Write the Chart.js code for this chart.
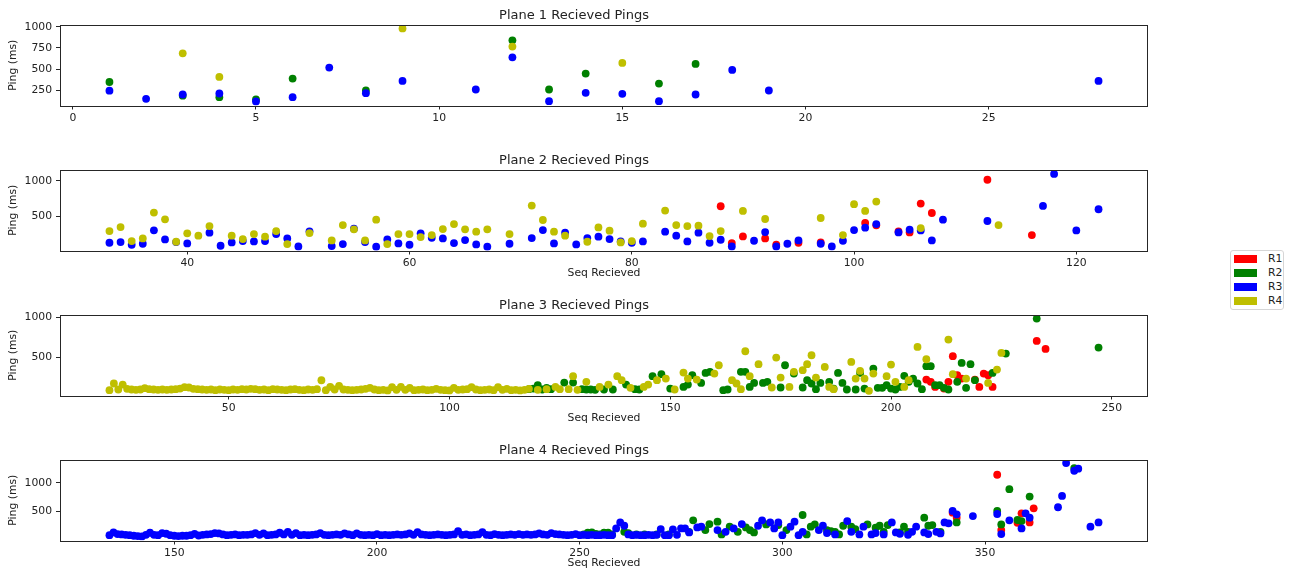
<!DOCTYPE html>
<html>
<head>
<meta charset="utf-8">
<script src="https://cdn.jsdelivr.net/npm/chart.js@4.4.1/dist/chart.umd.min.js"></script>
<style>
  html, body { margin: 0; padding: 0; background: #fff; overflow: hidden; }
  #wrap { position: relative; width: 1298px; height: 573px; }
  canvas.plane { position: absolute; left: 0; }
  #legend {
    position: absolute; left: 1230px; top: 250px; width: 54px; height: 60px;
    box-sizing: border-box; border: 1px solid #d6d6d6; border-radius: 3px; background: #fff;
    font-family: "DejaVu Sans", sans-serif; font-size: 10.8px; color: #222;
  }
  #legend .row { position: absolute; left: 3px; height: 14px; width: 48px; }
  #legend .sw { position: absolute; left: 0; top: 3px; width: 23px; height: 8px; }
  #legend .lb { position: absolute; left: 34px; top: 0; line-height: 14px; }
</style>
</head>
<body>
<div id="wrap">
  <canvas class="plane" id="plane1" width="1208" height="145" style="top:0px"></canvas>
  <canvas class="plane" id="plane2" width="1208" height="145" style="top:145px"></canvas>
  <canvas class="plane" id="plane3" width="1208" height="145" style="top:290px"></canvas>
  <canvas class="plane" id="plane4" width="1208" height="145" style="top:435px"></canvas>
  <div id="legend"></div>
</div>
<script>
// Router names and their marker colours
const routers = ['R1', 'R2', 'R3', 'R4'];
const routerColors = ['#ff0000', '#008000', '#0000ff', '#bfbf00'];

// Tick values per plane
const p1XTicks = [0, 5, 10, 15, 20, 25];
const p1YTicks = [250, 500, 750, 1000];
const p2XTicks = [40, 60, 80, 100, 120];
const p2YTicks = [500, 1000];
const p3XTicks = [50, 100, 150, 200, 250];
const p3YTicks = [500, 1000];
const p4XTicks = [150, 200, 250, 300, 350];
const p4YTicks = [500, 1000];

// ---- Plane 1: [seq, ping ms] ----
const p1R2 = [[1,350],[3,190],[4,172],[5,145],[6,390],[8,250],[12,840],[13,262],[14,449],[16,332],[17,562]];
const p1R3 = [[1,248],[2,152],[3,203],[4,215],[5,121],[6,172],[7,520],[8,219],[9,363],[11,262],[12,640],
  [13,125],[14,223],[15,211],[16,125],[17,203],[18,492],[19,250],[28,363]];
const p1R4 = [[3,687],[4,410],[9,980],[12,766],[15,574]];

// ---- Plane 2 ----
const p2R1 = [[88,645],[89,131],[90,224],[92,196],[93,108],[95,136],[97,140],[101,411],[102,379],[104,294],
  [105,280],[106,682],[107,551],[112,1014],[116,243]];
const p2R3 = [[33,136],[34,145],[35,108],[36,122],[37,309],[38,182],[39,145],[40,126],[42,276],[43,94],
  [44,140],[45,159],[46,154],[47,159],[48,257],[49,196],[50,84],[51,295],[53,89],[54,117],[55,332],[56,145],
  [57,80],[58,182],[59,126],[60,108],[61,267],[62,206],[63,196],[64,131],[65,173],[66,112],[67,80],[69,122],
  [71,201],[72,313],[73,126],[74,276],[75,112],[76,201],[77,220],[78,187],[79,154],[80,136],[81,154],[83,290],
  [84,234],[85,154],[86,276],[87,136],[88,178],[89,84],[91,164],[92,285],[93,84],[94,122],[95,168],[97,122],
  [98,84],[99,164],[100,313],[101,346],[102,397],[104,280],[105,318],[106,308],[107,168],[108,458],[112,439],
  [117,649],[118,1095],[120,308],[122,603]];
const p2R4 = [[33,299],[34,355],[35,160],[36,196],[37,556],[38,463],[39,150],[40,267],[41,234],[42,369],
  [44,234],[45,187],[46,257],[47,220],[48,299],[49,117],[51,271],[53,168],[54,383],[55,323],[56,168],[57,458],
  [58,117],[59,257],[60,257],[61,215],[62,243],[63,327],[64,397],[65,323],[66,290],[67,323],[69,257],[71,654],
  [72,453],[73,290],[74,234],[76,150],[77,350],[78,304],[79,140],[80,159],[81,402],[83,584],[84,383],[85,369],
  [86,374],[87,229],[88,299],[90,579],[92,467],[97,481],[99,243],[100,673],[101,579],[102,710],[106,341],[113,383]];

// ---- Plane 3 ----
const p3R1 = [[208,225],[209,196],[210,133],[212,112],[213,196],[214,517],[215,279],[216,237],[219,225],
  [220,133],[221,300],[222,279],[223,133],[233,708],[235,608]];
const p3R2 = [[118,104],[119,112],[120,154],[121,100],[122,121],[123,104],[126,187],[128,187],[130,104],
  [131,100],[132,100],[133,96],[135,100],[137,100],[140,162],[142,104],[143,100],[146,267],[148,292],[150,112],
  [153,133],[154,162],[155,279],[157,183],[158,308],[159,321],[162,92],[163,100],[166,321],[167,321],[168,133],
  [169,183],[171,183],[172,196],[175,125],[176,404],[178,300],[180,125],[181,217],[182,175],[183,104],[184,183],
  [186,196],[187,112],[188,308],[189,183],[190,100],[192,100],[193,308],[194,112],[196,362],[197,121],[198,121],
  [199,154],[200,112],[201,100],[202,133],[203,271],[204,196],[205,237],[206,175],[207,104],[208,392],[209,392],
  [210,154],[211,154],[212,121],[213,100],[215,196],[216,433],[217,121],[218,417],[219,217],[223,308],[226,550],
  [233,988],[247,625]];
const p3R4 = [[23,92],[24,175],[25,100],[26,162],[27,108],[28,100],[29,96],[30,100],[31,117],[32,104],
  [33,100],[34,96],[35,100],[36,96],[37,100],[38,104],[39,112],[40,129],[41,125],[42,108],[43,104],[44,100],
  [45,96],[46,100],[47,92],[48,100],[49,96],[50,92],[51,100],[52,96],[53,104],[54,100],[55,108],[56,104],
  [57,96],[58,100],[59,92],[60,104],[61,100],[62,96],[63,92],[64,100],[65,104],[66,96],[67,92],[68,100],
  [69,96],[70,104],[71,216],[72,92],[73,133],[74,100],[75,146],[76,100],[77,96],[78,92],[79,96],[80,100],
  [81,108],[82,121],[83,100],[84,92],[85,96],[86,88],[87,129],[88,96],[89,133],[90,96],[91,121],[92,92],
  [93,96],[94,100],[95,92],[96,96],[97,108],[98,96],[99,92],[100,88],[101,121],[102,96],[103,100],[104,104],
  [105,129],[106,100],[107,92],[108,96],[109,100],[110,92],[111,129],[112,96],[113,108],[114,92],[115,96],
  [116,88],[117,96],[118,108],[120,96],[122,104],[124,133],[125,104],[127,104],[128,267],[129,96],[131,196],
  [134,133],[136,162],[138,267],[139,217],[141,121],[144,133],[145,162],[147,217],[149,237],[151,100],
  [153,312],[154,237],[156,225],[160,300],[161,404],[164,217],[165,175],[166,104],[167,579],[168,267],
  [170,417],[173,125],[174,500],[175,250],[177,133],[178,321],[180,342],[181,417],[182,529],[183,250],
  [185,383],[186,133],[187,104],[191,446],[192,237],[193,333],[194,237],[195,83],[196,300],[199,267],
  [200,412],[201,196],[203,133],[204,217],[206,633],[208,479],[213,725],[214,292],[217,237],[222,183],
  [224,350],[225,558]];

// ---- Plane 4 ----
const p4R1 = [[342,483],[343,395],[353,1139],[354,180],[358,308],[359,471],[361,314],[362,558]];
const p4R2 = [[251,105],[252,134],[253,140],[254,116],[255,105],[256,134],[257,134],[258,105],[261,151],
  [262,128],[264,105],[266,105],[269,105],[272,105],[277,151],[278,349],[281,180],[282,285],[284,326],[285,105],
  [287,239],[289,151],[291,227],[292,180],[293,140],[296,279],[299,268],[301,180],[305,442],[306,105],[307,239],
  [308,279],[311,180],[312,163],[313,151],[314,105],[315,256],[317,239],[318,198],[321,279],[323,221],[324,256],
  [325,151],[326,268],[329,140],[330,239],[331,151],[335,395],[336,256],[337,268],[339,151],[343,314],[353,512],
  [354,279],[356,889],[358,355],[359,337],[361,761],[372,1255]];
const p4R3 = [[134,93],[135,140],[136,111],[137,105],[138,99],[139,93],[140,82],[141,76],[142,70],[143,99],
  [144,134],[145,99],[146,93],[147,128],[148,117],[149,93],[150,82],[151,76],[152,82],[153,82],[154,93],
  [155,116],[156,87],[157,99],[158,105],[159,111],[160,128],[161,122],[162,105],[163,93],[164,99],[165,105],
  [166,93],[167,99],[168,99],[169,105],[170,128],[171,99],[172,122],[173,93],[174,99],[175,105],[176,134],
  [177,105],[178,151],[179,99],[180,128],[181,93],[182,99],[183,93],[184,99],[185,105],[186,128],[187,99],
  [188,93],[189,99],[190,105],[191,99],[192,122],[193,105],[194,93],[195,122],[196,99],[197,93],[198,99],
  [199,93],[200,111],[201,93],[202,99],[203,93],[204,99],[205,105],[206,99],[207,105],[208,122],[209,99],
  [210,146],[211,105],[212,99],[213,93],[214,99],[215,105],[216,99],[217,93],[218,99],[219,105],[220,163],
  [221,99],[222,105],[223,93],[224,99],[225,105],[226,146],[227,99],[228,93],[229,111],[230,99],[231,93],
  [232,99],[233,105],[234,99],[235,111],[236,99],[237,105],[238,99],[239,105],[240,122],[241,105],[242,99],
  [243,128],[244,111],[245,105],[246,99],[247,93],[248,99],[249,111],[250,93],[251,99],[252,93],[253,99],
  [254,93],[255,93],[256,99],[257,93],[258,93],[259,210],[260,314],[261,256],[262,105],[263,93],[264,99],
  [265,93],[266,93],[267,99],[268,93],[269,99],[270,198],[271,93],[272,93],[273,192],[274,99],[275,210],
  [276,210],[277,140],[279,227],[280,239],[284,180],[286,151],[288,210],[290,285],[294,256],[295,349],
  [297,314],[298,210],[299,314],[300,93],[302,239],[303,326],[304,93],[305,151],[309,180],[310,256],[311,128],
  [313,105],[316,337],[317,151],[319,105],[320,239],[322,105],[323,128],[325,105],[327,314],[328,140],
  [329,116],[331,99],[332,151],[333,239],[335,140],[336,111],[338,151],[339,122],[340,314],[341,297],
  [342,512],[343,454],[347,424],[353,459],[354,111],[356,349],[359,210],[360,471],[361,395],[368,576],
  [369,773],[370,1342],[372,1209],[373,1244],[376,239],[378,314]];

const FONT = 'DejaVu Sans';
const TEXT = '#222';
const LINE = '#262626';

Chart.defaults.font.family = FONT;
Chart.defaults.color = TEXT;

// Full box around each plot area (axes spines)
const spines = {
  id: 'spines',
  afterDatasetsDraw(chart) {
    const a = chart.chartArea, ctx = chart.ctx;
    const l = Math.round(a.left), t = Math.round(a.top), r = Math.round(a.right), b = Math.round(a.bottom);
    ctx.save();
    ctx.strokeStyle = LINE;
    ctx.lineWidth = 1;
    ctx.strokeRect(l + 0.5, t + 0.5, r - l - 1, b - t);
    ctx.restore();
  }
};

function series(pairs, r) {
  return {
    label: routers[r],
    data: pairs.map(([x, y]) => ({ x, y })),
    backgroundColor: routerColors[r],
    borderWidth: 0,
    pointRadius: 3.9,
    pointHoverRadius: 3.9,
    order: 4 - r
  };
}

// Plain integer tick text (no thousands separator)
const plain = v => String(v);

function drawPlane(id, title, sets, xr, yr, xTicks, yTicks, showXTitle) {
  new Chart(document.getElementById(id), {
    type: 'scatter',
    data: { datasets: sets },
    options: {
      responsive: false,
      animation: false,
      events: [],
      devicePixelRatio: 1,
      layout: { padding: { top: 5.4, right: 60, left: 0, bottom: 0 } },
      plugins: {
        legend: { display: false },
        tooltip: { enabled: false },
        title: {
          display: true, text: title, color: TEXT,
          font: { size: 13, weight: 'normal', family: FONT },
          padding: { top: 2, bottom: 2 }
        }
      },
      scales: {
        x: {
          type: 'linear', min: xr[0], max: xr[1],
          afterBuildTicks: s => { s.ticks = xTicks.map(v => ({ value: v })); },
          afterFit: s => { s.height = 39.5; },
          ticks: { font: { size: 10.8 }, color: TEXT, padding: 2.5, maxRotation: 0, autoSkip: false, callback: plain },
          grid: { drawOnChartArea: false, drawTicks: true, tickLength: 4, tickColor: LINE, tickWidth: 1 },
          border: { display: false },
          title: {
            display: showXTitle, text: 'Seq Recieved', color: TEXT,
            font: { size: 10.8 }, padding: { top: 0, bottom: 10.2 }
          }
        },
        y: {
          type: 'linear', min: yr[0], max: yr[1],
          afterBuildTicks: s => { s.ticks = yTicks.map(v => ({ value: v })); },
          afterFit: s => { s.width = 60; },
          ticks: { font: { size: 10.8 }, color: TEXT, padding: 4, autoSkip: false, callback: plain },
          grid: { drawOnChartArea: false, drawTicks: true, tickLength: 4, tickColor: LINE, tickWidth: 1 },
          border: { display: false },
          title: {
            display: true, text: 'Ping (ms)', color: TEXT,
            font: { size: 10.8 }, padding: { top: 7, bottom: 0 }
          }
        }
      }
    },
    plugins: [spines]
  });
}

drawPlane('plane1', 'Plane 1 Recieved Pings',
  [series(p1R2, 1), series(p1R3, 2), series(p1R4, 3)],
  [-0.35, 29.35], [74, 1020], p1XTicks, p1YTicks, false);

drawPlane('plane2', 'Plane 2 Recieved Pings',
  [series(p2R1, 0), series(p2R3, 2), series(p2R4, 3)],
  [28.55, 126.45], [28, 1150], p2XTicks, p2YTicks, true);

drawPlane('plane3', 'Plane 3 Recieved Pings',
  [series(p3R1, 0), series(p3R2, 1), series(p3R4, 3)],
  [11.8, 258.2], [25, 1033], p3XTicks, p3YTicks, true);

drawPlane('plane4', 'Plane 4 Recieved Pings',
  [series(p4R1, 0), series(p4R2, 1), series(p4R3, 2)],
  [121.8, 390.2], [0, 1395], p4XTicks, p4YTicks, true);

// Shared legend for the four routers
const legend = document.getElementById('legend');
routers.forEach((name, i) => {
  const row = document.createElement('div');
  row.className = 'row';
  row.style.top = (1 + i * 13.9) + 'px';
  const sw = document.createElement('div');
  sw.className = 'sw';
  sw.style.background = routerColors[i];
  const lb = document.createElement('div');
  lb.className = 'lb';
  lb.textContent = name;
  row.appendChild(sw);
  row.appendChild(lb);
  legend.appendChild(row);
});
</script>
</body>
</html>
